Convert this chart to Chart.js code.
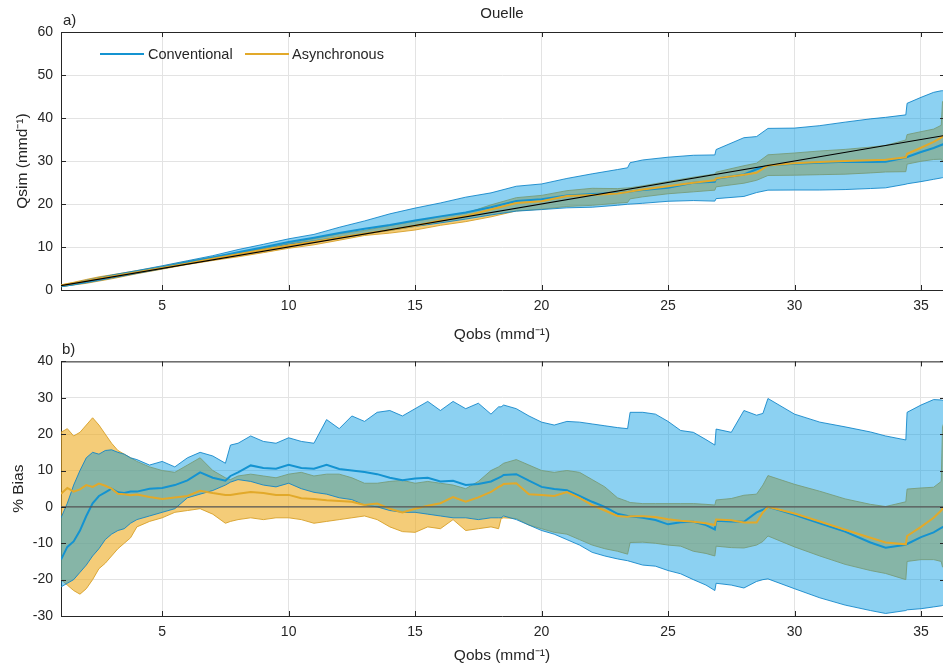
<!DOCTYPE html>
<html>
<head>
<meta charset="utf-8">
<script src="https://cdn.jsdelivr.net/npm/chart.js@4.4.1/dist/chart.umd.min.js"></script>
<style>
    body { margin: 0; background: #fff; font-family: "Liberation Sans", Arial, sans-serif; color: #262626; }
    #wrap { position: relative; width: 943px; height: 667px; overflow: hidden; }
    canvas { position: absolute; left: 0; }
    #chart-top { top: 0; }
    #chart-bottom { top: 345px; }
    .txt { position: absolute; white-space: nowrap; line-height: 1; }
    .key { position: absolute; height: 0; width: 44px; }
</style>
</head>
<body>
<div id="wrap">
    <canvas id="chart-top" width="943" height="345"></canvas>
    <canvas id="chart-bottom" width="943" height="322"></canvas>
    <div class="txt" style="left:502px; top:5px; font-size:15px; transform:translateX(-50%);">Ouelle</div>
    <div class="txt" style="left:63px; top:12px; font-size:15px;">a)</div>
    <div class="txt" style="left:62px; top:341px; font-size:15px;">b)</div>
    <div class="key" style="left:100px; top:53px; border-top:2px solid #1493d1;"></div>
    <div class="txt" style="left:148px; top:47px; font-size:14.5px;">Conventional</div>
    <div class="key" style="left:245px; top:53px; border-top:2px solid #e2a92a;"></div>
    <div class="txt" style="left:292px; top:47px; font-size:14.5px;">Asynchronous</div>
</div>
<script>
// panel a) simulated flow vs observed flow (mm/d)
const qobsTop = [1, 1.5, 2, 2.5, 3, 4, 5, 6, 7, 8, 9, 10, 11, 12, 13, 14, 15, 16, 17, 18, 19, 20, 21, 22, 23, 23.4, 23.5, 24, 25, 26, 26.85, 26.9, 28, 28.5, 28.95, 30, 31, 32, 33, 33.6, 34.4, 34.45, 35, 35.5, 35.8, 35.85, 36];
const convUpperQ = [0.97, 1.59, 2.27, 2.86, 3.47, 4.52, 5.63, 6.81, 7.98, 9.40, 10.62, 11.90, 12.93, 14.58, 16.06, 17.71, 19.05, 20.24, 21.59, 22.59, 24.13, 24.66, 25.94, 27.02, 28.01, 28.43, 29.61, 30.24, 30.88, 31.33, 31.41, 32.66, 35.42, 35.68, 37.58, 37.65, 38.22, 39.04, 39.80, 40.15, 40.73, 43.41, 44.80, 45.97, 46.33, 46.35, 46.51];
const convLowerQ = [0.78, 1.20, 1.68, 2.21, 2.78, 3.86, 4.93, 6.15, 7.32, 8.60, 9.54, 10.65, 11.44, 12.30, 13.07, 13.86, 14.78, 15.60, 16.49, 17.46, 18.34, 18.70, 19.11, 19.25, 19.71, 19.94, 19.98, 20.16, 20.63, 20.80, 20.67, 21.25, 21.76, 22.66, 23.22, 23.25, 23.25, 23.36, 23.60, 23.76, 24.60, 24.70, 25.20, 25.74, 26.06, 26.13, 26.28];
const asyncUpperQ = [1.21, 1.79, 2.45, 3.06, 3.53, 4.50, 5.50, 6.69, 7.70, 8.68, 9.77, 10.90, 11.94, 13.08, 13.85, 14.98, 15.98, 17.04, 17.85, 19.80, 21.47, 22.00, 23.10, 23.65, 23.58, 23.75, 23.78, 24.22, 25.23, 26.23, 26.98, 27.41, 28.90, 29.50, 31.44, 31.86, 32.33, 32.70, 33.23, 33.63, 34.88, 36.14, 36.82, 37.42, 38.31, 43.74, 45.00];
const asyncLowerQ = [0.80, 1.16, 1.55, 2.08, 2.60, 3.78, 4.85, 5.94, 6.86, 7.72, 8.69, 9.70, 10.51, 11.58, 12.68, 13.23, 13.95, 15.04, 15.90, 17.01, 18.39, 18.80, 19.43, 19.69, 20.19, 20.36, 21.20, 21.67, 22.38, 22.83, 23.22, 23.99, 24.84, 25.51, 26.63, 26.70, 26.82, 26.94, 27.23, 27.45, 27.52, 29.28, 29.93, 30.35, 30.43, 29.93, 29.88];
const convMedianQ = [0.86, 1.36, 1.95, 2.58, 3.15, 4.17, 5.26, 6.44, 7.56, 8.76, 9.96, 11.16, 12.16, 13.25, 14.25, 15.12, 16.17, 17.12, 18.02, 19.26, 20.71, 21.10, 21.97, 22.31, 22.56, 22.82, 22.89, 23.28, 23.80, 24.93, 25.19, 25.88, 26.85, 28.07, 28.95, 29.34, 29.61, 29.82, 29.77, 29.84, 30.82, 30.94, 32.10, 33.02, 33.72, 33.84, 34.09];
const asyncMedianQ = [1.04, 1.56, 2.12, 2.66, 3.15, 4.14, 5.11, 6.18, 7.27, 8.29, 9.34, 10.33, 11.24, 12.19, 13.07, 13.93, 14.93, 16.16, 17.24, 18.74, 20.24, 20.66, 21.86, 22.11, 22.43, 22.77, 22.89, 23.38, 24.15, 24.93, 25.51, 25.96, 26.80, 27.27, 28.95, 29.46, 29.76, 29.98, 30.20, 30.31, 30.86, 31.69, 33.08, 34.44, 35.44, 35.67, 36.00];
const oneToOneX = [1, 36];
const oneToOneY = [1, 36];

// panel b) percent bias
const qobsBias = [1, 1.25, 1.5, 1.75, 2, 2.25, 2.5, 2.75, 3, 3.25, 3.5, 3.75, 4, 4.5, 5, 5.5, 6, 6.5, 7, 7.5, 7.7, 8, 8.5, 9, 9.5, 10, 10.5, 11, 11.5, 12, 12.5, 13, 13.5, 14, 14.5, 15, 15.5, 16, 16.5, 17, 17.5, 18, 18.3, 18.4, 18.5, 19, 19.5, 20, 20.5, 21, 21.5, 22, 22.5, 23, 23.4, 23.5, 24, 24.5, 25, 25.5, 26, 26.5, 26.85, 26.9, 27.5, 28, 28.5, 28.75, 28.95, 30, 31, 32, 33, 33.6, 34.4, 34.45, 35, 35.5, 35.8, 35.85, 36];
const convUpperBias = [-3, 1, 6, 10, 13.5, 15, 14.5, 15.5, 15.7, 15, 14.5, 13.5, 13, 11.5, 12.5, 11, 13.5, 15, 14, 12, 17, 17.5, 19.5, 18, 17.5, 19, 18, 17.5, 24, 21.5, 25, 23.5, 26, 26.5, 25, 27, 29, 26.5, 29, 27, 28.5, 25.5, 27.5, 27.5, 28, 27, 25, 23.3, 22.5, 23.5, 23.3, 22.8, 22.3, 21.8, 21.5, 26, 26, 25.5, 23.5, 21, 20.5, 18.5, 17, 21.4, 20.5, 26.5, 25.2, 25.7, 29.8, 25.5, 23.3, 22, 20.6, 19.5, 18.4, 26, 28, 29.5, 29.4, 29.3, 29.2];
const convLowerBias = [-22, -21, -20, -18, -16, -13.5, -11.5, -9, -7.5, -6.5, -6, -4.5, -3.5, -2.5, -1.5, -0.5, 2.5, 3.5, 4.5, 6, 6.8, 7.5, 7, 6, 5.5, 6.5, 5, 4, 3.5, 2.5, 2, 0.5, 0, -1, -1.5, -1.5, -2, -2.5, -3, -3, -3.5, -3, -3, -3, -2.5, -3.5, -5, -6.5, -7.5, -9, -10.5, -12.5, -13.5, -14.3, -14.8, -15, -16, -16.3, -17.5, -18.4, -20, -21.5, -23, -21, -21.5, -22.3, -20.5, -20, -19.8, -22.5, -25, -27, -28.5, -29.3, -28.5, -28.3, -28, -27.5, -27.2, -27.1, -27];
const asyncUpperBias = [20.5, 21.5, 19.5, 20.5, 22.5, 24.5, 22.5, 20, 17.5, 15.5, 14.5, 13.5, 12.5, 11, 10, 9.5, 11.5, 13.5, 10, 8, 7.5, 8.5, 9, 8.5, 8, 9, 9.5, 8.5, 9, 9, 8, 6.5, 6.5, 7, 7.3, 6.5, 7, 6.5, 6, 5, 7, 10, 11, 11.5, 12, 13, 11.5, 10, 9.5, 10, 9.5, 7.5, 5.5, 2.5, 1.5, 1.2, 0.9, 0.9, 0.9, 0.9, 0.9, 0.7, 0.5, 1.9, 2.3, 3.2, 3.5, 6, 8.6, 6.2, 4.3, 2.2, 0.7, 0.1, 1.4, 4.9, 5.2, 5.4, 7, 22, 25];
const asyncLowerBias = [-20, -21.5, -23, -24, -22.5, -20, -17, -15.5, -13.5, -11.5, -10, -8.5, -5.5, -4, -3, -1.5, -1, -0.5, -2, -4.5, -4, -3.5, -3, -3.5, -3, -3, -3.5, -4.5, -4, -3.5, -3, -2.5, -3.5, -5.5, -6.8, -7, -5.5, -6, -3.5, -6.5, -6, -5.5, -6, -3.2, -3, -3.2, -5, -6, -7, -7.5, -9, -10.5, -11.5, -12.2, -13, -9.8, -9.7, -10, -10.5, -10.8, -12.2, -12.8, -13.5, -10.8, -11.2, -11.3, -10.5, -9.5, -8, -11, -13.5, -15.8, -17.5, -18.3, -20, -15, -14.5, -14.5, -15, -16.5, -17];
const convMedianBias = [-14.5, -11, -9.5, -6.5, -2.5, 1, 3, 4, 5, 4, 3.8, 4.2, 4.2, 5, 5.2, 6, 7.3, 9.5, 8, 7.2, 8.5, 9.5, 11.4, 10.7, 10.5, 11.6, 10.7, 10.5, 11.6, 10.4, 10, 9.6, 9, 8, 7.3, 7.8, 8, 7, 7.2, 6, 6.3, 7, 8, 8.3, 8.8, 9, 7.2, 5.5, 4.9, 4.6, 3, 1.4, 0, -1.9, -2.5, -2.6, -3, -3.6, -4.8, -4.2, -4.1, -5, -6.2, -3.8, -4, -4.1, -1.5, -0.8, 0, -2.2, -4.5, -6.8, -9.8, -11.2, -10.4, -10.2, -8.3, -7, -5.8, -5.6, -5.3];
const asyncMedianBias = [3.6, 5.2, 4.2, 4.8, 6, 5.5, 6.4, 5.8, 5, 3.6, 3.5, 3.2, 3.4, 2.7, 2.2, 2.6, 3, 4.4, 3.8, 3.3, 3.3, 3.6, 4.1, 3.8, 3.3, 3.3, 2.4, 2.2, 1.8, 1.6, 1.4, 0.5, 0.9, -0.5, -1.5, -0.5, 0.3, 1, 2.7, 1.4, 2.6, 4.1, 5.5, 5.8, 6.3, 6.5, 3.5, 3.3, 3, 4.1, 2.5, 0.5, -1, -2.5, -2.7, -2.6, -2.6, -2.8, -3.4, -3.8, -4.1, -4.5, -5, -3.5, -3.7, -4.3, -4.3, -1.5, 0, -1.8, -4, -6.3, -8.5, -9.8, -10.3, -8, -5.5, -3, -1, -0.5, 0];
const zeroLineX = [1, 36];
const zeroLineY = [0, 0];

const xTicksQ = [5, 10, 15, 20, 25, 30, 35];

const AXIS = '#262626';
const GRID = '#e3e3e3';
const BLUE = '#1493d1';
const BLUE_EDGE = 'rgba(10, 130, 200, 0.85)';
const BLUE_FILL = 'rgba(0, 153, 227, 0.45)';
const ORANGE = '#e2a92a';
const ORANGE_EDGE = 'rgba(215, 160, 40, 0.9)';
const ORANGE_FILL = 'rgba(237, 170, 30, 0.6)';

Chart.defaults.font.family = '"Liberation Sans", Arial, sans-serif';
Chart.defaults.color = AXIS;

function pts(xs, ys) {
    return xs.map((x, i) => ({ x: x, y: ys[i] }));
}

// MATLAB style box: top border plus inward tick marks
const boxTicks = {
    id: 'boxTicks',
    afterDatasetsDraw(chart) {
        const { ctx, chartArea: a, scales: { x, y } } = chart;
        ctx.save();
        ctx.strokeStyle = AXIS;
        ctx.lineWidth = 1;
        ctx.beginPath();
        ctx.moveTo(a.left, a.top + 0.5);
        ctx.lineTo(a.right, a.top + 0.5);
        x.ticks.forEach(t => {
            const px = Math.round(x.getPixelForValue(t.value)) + 0.5;
            ctx.moveTo(px, a.bottom);
            ctx.lineTo(px, a.bottom - 5);
            ctx.moveTo(px, a.top);
            ctx.lineTo(px, a.top + 5);
        });
        y.ticks.forEach(t => {
            const py = Math.round(y.getPixelForValue(t.value)) + 0.5;
            ctx.moveTo(a.left, py);
            ctx.lineTo(a.left + 5, py);
            ctx.moveTo(a.right, py);
            ctx.lineTo(a.right - 3, py);
        });
        ctx.stroke();
        ctx.restore();
    }
};

function buildDatasets(xs, refX, refY, refColor, bands) {
    return [
        { label: 'ref', data: pts(refX, refY), borderColor: refColor, borderWidth: 1.2 },
        { label: 'Asynchronous', data: pts(xs, bands.asyncMedian), borderColor: ORANGE, borderWidth: 2 },
        { label: 'Conventional', data: pts(xs, bands.convMedian), borderColor: BLUE, borderWidth: 2 },
        { label: 'Conventional low', data: pts(xs, bands.convLower), borderColor: BLUE_EDGE, borderWidth: 1 },
        { label: 'Conventional high', data: pts(xs, bands.convUpper), borderColor: BLUE_EDGE, borderWidth: 1, fill: '-1', backgroundColor: BLUE_FILL },
        { label: 'Asynchronous low', data: pts(xs, bands.asyncLower), borderColor: ORANGE_EDGE, borderWidth: 1 },
        { label: 'Asynchronous high', data: pts(xs, bands.asyncUpper), borderColor: ORANGE_EDGE, borderWidth: 1, fill: '-1', backgroundColor: ORANGE_FILL }
    ].map(d => Object.assign({ pointRadius: 0, tension: 0, fill: false }, d));
}

function buildOptions(cfg) {
    return {
        responsive: false,
        animation: false,
        devicePixelRatio: 1,
        layout: { padding: { top: cfg.padTop, left: 0, right: 0, bottom: 0 } },
        plugins: { legend: { display: false }, tooltip: { enabled: false } },
        scales: {
            x: {
                type: 'linear',
                min: 1,
                max: 35.87,
                afterBuildTicks: s => { s.ticks = xTicksQ.map(v => ({ value: v })); },
                ticks: { padding: 8, font: { size: 14 }, color: AXIS },
                grid: { color: GRID, drawTicks: false },
                border: { color: AXIS },
                title: { display: true, text: 'Qobs (mmd⁻¹)', font: { size: 15.5 }, color: AXIS, padding: { top: 0, bottom: cfg.xTitlePad } },
                afterFit: s => { s.height = cfg.xHeight; }
            },
            y: {
                min: cfg.yMin,
                max: cfg.yMax,
                ticks: { stepSize: 10, padding: 8, font: { size: 14 }, color: AXIS },
                grid: { color: GRID, drawTicks: false },
                border: { color: AXIS },
                title: { display: true, text: cfg.yTitle, font: { size: 15.5 }, color: AXIS, padding: { top: cfg.yTitlePad, bottom: 0 } },
                afterFit: s => { s.width = 61; }
            }
        }
    };
}

new Chart(document.getElementById('chart-top').getContext('2d'), {
    type: 'line',
    data: {
        datasets: buildDatasets(qobsTop, oneToOneX, oneToOneY, '#000000', {
            convUpper: convUpperQ, convLower: convLowerQ, convMedian: convMedianQ,
            asyncUpper: asyncUpperQ, asyncLower: asyncLowerQ, asyncMedian: asyncMedianQ
        })
    },
    options: buildOptions({ padTop: 32, xHeight: 55, xTitlePad: 1, yMin: 0, yMax: 60, yTitle: 'Qsim (mmd⁻¹)', yTitlePad: 13 }),
    plugins: [boxTicks]
});

new Chart(document.getElementById('chart-bottom').getContext('2d'), {
    type: 'line',
    data: {
        datasets: buildDatasets(qobsBias, zeroLineX, zeroLineY, '#555555', {
            convUpper: convUpperBias, convLower: convLowerBias, convMedian: convMedianBias,
            asyncUpper: asyncUpperBias, asyncLower: asyncLowerBias, asyncMedian: asyncMedianBias
        })
    },
    options: buildOptions({ padTop: 12, xHeight: 51, xTitlePad: 2, yMin: -30, yMax: 40, yTitle: '% Bias', yTitlePad: 9 }),
    plugins: [boxTicks]
});
</script>
</body>
</html>
